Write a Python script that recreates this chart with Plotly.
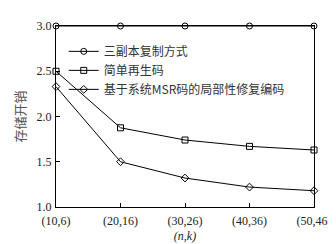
import plotly.graph_objects as go

categories = ["(10,6)", "(20,16)", "(30,26)", "(40,36)", "(50,46)"]
three_replica = [3.0, 3.0, 3.0, 3.0, 3.0]
simple_regen = [2.5, 1.875, 1.74, 1.67, 1.63]
msr_local = [2.33, 1.5, 1.32, 1.22, 1.18]
y_ticks = [1.0, 1.5, 2.0, 2.5, 3.0]
y_ticktext = ["1.0", "1.5", "2.0", "2.5", "3.0"]

xs = list(range(len(categories)))
fig = go.Figure()
series = [
    ("三副本复制方式", three_replica, "circle-open"),
    ("简单再生码", simple_regen, "square-open"),
    ("基于系统MSR码的局部性修复编码", msr_local, "diamond-open"),
]
for name, ys, sym in series:
    fig.add_trace(go.Scatter(
        x=xs, y=ys, name=name, mode="lines+markers",
        line=dict(color="black", width=1),
        marker=dict(symbol=sym, size=6, color="black", line=dict(width=1, color="black")),
        cliponaxis=False,
    ))

fig.update_layout(
    width=336, height=244,
    margin=dict(l=44, r=30, t=11, b=43),
    paper_bgcolor="white", plot_bgcolor="white",
    font=dict(family="Liberation Serif, Noto Sans CJK SC", size=11, color="#222"),
    showlegend=True,
    legend=dict(x=0.03, y=0.94, xanchor="left", yanchor="top",
                bgcolor="rgba(0,0,0,0)", font=dict(family="Noto Sans CJK SC", size=12, color="#333"),
                tracegroupgap=0, itemwidth=30),
)
fig.update_xaxes(
    range=[0, 4], tickmode="array", tickvals=xs, ticktext=categories,
    showline=True, linecolor="black", linewidth=1, mirror=True,
    ticks="inside", ticklen=4, tickcolor="black", showgrid=False, zeroline=False,
    ticklabelstandoff=3,
    title=dict(text="<i>(n,k)</i>", font=dict(family="Liberation Serif", size=12), standoff=4),
    tickfont=dict(family="Liberation Serif", size=12),
)
fig.update_yaxes(
    range=[1.0, 3.0], tickmode="array", tickvals=y_ticks, ticktext=y_ticktext,
    showline=True, linecolor="black", linewidth=1, mirror=True,
    ticks="inside", ticklen=4, tickcolor="black", showgrid=False, zeroline=False,
    ticklabelstandoff=1,
    title=dict(text="存储开销", font=dict(family="Noto Sans CJK SC", size=13, color="#555"), standoff=8),
    tickfont=dict(family="Liberation Serif", size=12),
)
fig.write_html("out.html")
